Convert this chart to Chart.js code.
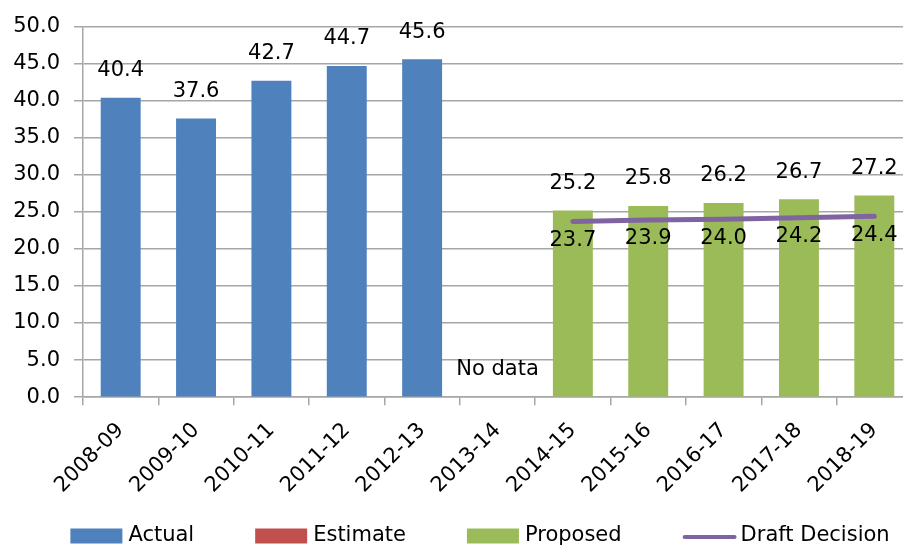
<!DOCTYPE html>
<html>
<head>
<meta charset="utf-8">
<script src="https://cdn.jsdelivr.net/npm/chart.js@4"></script>
<style>
  html, body { margin: 0; padding: 0; background: #fff; overflow: hidden; }
  #wrap { width: 960px; height: 556px; }
</style>
</head>
<body>
<div id="wrap"><canvas id="c" width="960" height="556"></canvas></div>
<script>
// ---- data ----
const categories = ['2008-09','2009-10','2010-11','2011-12','2012-13','2013-14','2014-15','2015-16','2016-17','2017-18','2018-19'];
const actual   = [40.4, 37.6, 42.7, 44.7, 45.6, null, null, null, null, null, null];
const estimate = [null, null, null, null, null, null, null, null, null, null, null];
const proposed = [null, null, null, null, null, null, 25.2, 25.8, 26.2, 26.7, 27.2];
const draftDecision = [null, null, null, null, null, null, 23.7, 23.9, 24.0, 24.2, 24.4];
const noDataCategories = ['2013-14'];
const yTicks = { min: 0, max: 50, step: 5 };

const FONT = 'DejaVu Sans';
const FS = 21;
const PURPLE = '#8064A2';

const labelPlugin = {
  id: 'valueLabels',
  afterDatasetsDraw(chart) {
    const ctx = chart.ctx;
    const x = chart.scales.x, y = chart.scales.y;
    ctx.save();
    ctx.font = FS + 'px "' + FONT + '"';
    ctx.fillStyle = '#000';
    ctx.textAlign = 'center';
    ctx.textBaseline = 'middle';
    chart.data.datasets.forEach((ds, di) => {
      const meta = chart.getDatasetMeta(di);
      ds.data.forEach((v, i) => {
        if (v === null || v === undefined) return;
        const px = meta.data[i].x;
        const py = y.getPixelForValue(v);
        if (ds.type === 'line') ctx.fillText(v.toFixed(1), px, py + 19);
        else ctx.fillText(v.toFixed(1), px, py - 27);
      });
    });
    noDataCategories.forEach(c => {
      const i = categories.indexOf(c);
      ctx.fillText('No data', x.getPixelForValue(i), y.getPixelForValue(0) - 28);
    });
    ctx.restore();
  }
};

// bottom legend drawn from the datasets
const legendPlugin = {
  id: 'customLegend',
  afterDraw(chart) {
    const ctx = chart.ctx;
    const boxW = 52, boxH = 15, textGap = 6, itemGap = 61;
    const cy = chart.height - 20;
    ctx.save();
    ctx.font = FS + 'px "' + FONT + '"';
    ctx.textBaseline = 'middle';
    ctx.textAlign = 'left';
    const items = chart.data.datasets.map(ds => ({ ds, w: boxW + textGap + ctx.measureText(ds.label).width }));
    const total = items.reduce((s, it) => s + it.w, 0) + itemGap * (items.length - 1);
    let x = 480 - total / 2;
    items.forEach(({ ds, w }) => {
      if (ds.type === 'line') {
        ctx.strokeStyle = ds.borderColor;
        ctx.lineWidth = 4;
        ctx.lineCap = 'round';
        ctx.beginPath();
        ctx.moveTo(x + 2, cy + 1);
        ctx.lineTo(x + boxW, cy + 1);
        ctx.stroke();
      } else {
        ctx.fillStyle = ds.backgroundColor;
        ctx.fillRect(x, cy - boxH / 2, boxW, boxH);
      }
      ctx.fillStyle = '#000';
      ctx.fillText(ds.label, x + boxW + textGap, cy);
      x += w + itemGap;
    });
    ctx.restore();
  }
};

new Chart(document.getElementById('c'), {
  data: {
    labels: categories,
    datasets: [
      { type: 'bar', label: 'Actual', data: actual, backgroundColor: '#4F81BD', order: 2 },
      { type: 'bar', label: 'Estimate', data: estimate, backgroundColor: '#C0504D', order: 2 },
      { type: 'bar', label: 'Proposed', data: proposed, backgroundColor: '#9BBB59', order: 2 },
      { type: 'line', label: 'Draft Decision', data: draftDecision, borderColor: PURPLE, backgroundColor: PURPLE,
        borderWidth: 5, pointRadius: 0, borderCapStyle: 'round', tension: 0, order: 1 }
    ]
  },
  options: {
    responsive: false,
    animation: false,
    devicePixelRatio: 1,
    skipNull: true,
    datasets: { bar: { categoryPercentage: 1, barPercentage: 0.53, skipNull: true } },
    layout: { padding: { left: 12, right: 48, top: 25, bottom: 45 } },
    plugins: {
      tooltip: { enabled: false },
      legend: { display: false }
    },
    scales: {
      x: {
        grid: { offset: true, drawOnChartArea: false, drawTicks: true, tickLength: 8, color: '#A6A6A6', lineWidth: 1.5 },
        border: { color: '#A6A6A6', width: 1.5 },
        ticks: { font: { family: FONT, size: FS }, color: '#000', maxRotation: 45, minRotation: 45, padding: 13, autoSkip: false }
      },
      y: {
        min: yTicks.min, max: yTicks.max,
        afterFit(scale) { scale.width = 71; },
        grid: { color: '#A6A6A6', lineWidth: 1.5, tickLength: 9 },
        border: { color: '#A6A6A6', width: 1.5 },
        ticks: { stepSize: yTicks.step, autoSkip: false, font: { family: FONT, size: FS }, color: '#000', padding: 14,
          callback: v => Number(v).toFixed(1) }
      }
    }
  },
  plugins: [labelPlugin, legendPlugin]
});
</script>
</body>
</html>
